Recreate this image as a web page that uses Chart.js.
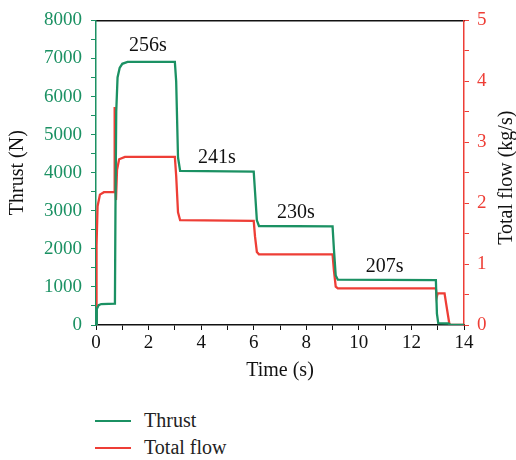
<!DOCTYPE html>
<html>
<head>
<meta charset="utf-8">
<script src="https://cdn.jsdelivr.net/npm/chart.js@4/dist/chart.umd.min.js"></script>
<style>
  body { margin: 0; background: #fff; }
  #wrap { position: relative; width: 516px; height: 460px; }
  #chartBox { position: absolute; left: 0; top: 0; width: 516px; height: 395px; }
  #legend { position: absolute; left: 95px; top: 407px; font-family: "Liberation Serif", serif; font-size: 20px; color: #222; }
  .item { display: flex; align-items: center; height: 27px; }
  .swatch { width: 36px; height: 2px; margin-right: 13px; }
</style>
</head>
<body>
<div id="wrap">
  <div id="chartBox"><canvas id="chart"></canvas></div>
  <div id="legend"></div>
</div>
<script>
// thrust curve (time in s, thrust in N)
const thrustTime = [0, 0.03, 0.1, 0.2, 0.72, 0.74, 0.77, 0.82, 0.9, 1.0, 1.2, 3.0, 3.05, 3.12, 3.2, 6.0, 6.05, 6.12, 6.2, 9.0, 9.05, 9.12, 9.2, 12.93, 12.97, 13.02, 13.4, 13.5, 14];
const thrustValues = [0, 420, 520, 550, 560, 3000, 5600, 6500, 6750, 6860, 6910, 6910, 6400, 4400, 4050, 4030, 3500, 2750, 2600, 2590, 2000, 1300, 1190, 1180, 300, 50, 40, 0, 0];

// total flow curve (time in s, flow in kg/s)
const flowTime = [0, 0.02, 0.06, 0.15, 0.3, 0.69, 0.71, 0.73, 0.76, 0.8, 0.88, 1.1, 3.0, 3.05, 3.12, 3.2, 6.0, 6.05, 6.12, 6.2, 9.0, 9.05, 9.12, 9.2, 12.93, 12.96, 13.0, 13.26, 13.32, 13.45, 14];
const flowValues = [0, 1.3, 1.95, 2.14, 2.18, 2.18, 3.58, 2.3, 2.05, 2.55, 2.72, 2.76, 2.76, 2.45, 1.85, 1.72, 1.71, 1.45, 1.2, 1.16, 1.16, 0.9, 0.63, 0.6, 0.6, 0.45, 0.52, 0.52, 0.35, 0, 0];

// specific impulse labels on each plateau
const annoLabels = ['256s', '241s', '230s', '207s'];
const annoTime = [1.97, 4.6, 7.6, 10.98];
const annoThrust = [7330, 4380, 2950, 1540];

const xTicks = [0, 2, 4, 6, 8, 10, 12, 14];

const green = '#1b9163';
const red = '#ee3e36';
const serif = '"Liberation Serif", serif';

const pts = (ts, vs) => ts.map((t, i) => ({ x: t, y: vs[i] }));

const annoPlugin = {
    id: 'annos',
    afterDatasetsDraw(chart) {
        const { ctx, scales } = chart;
        ctx.save();
        ctx.fillStyle = '#111';
        ctx.font = '20px ' + serif;
        ctx.textAlign = 'center';
        ctx.textBaseline = 'middle';
        annoLabels.forEach((txt, i) => {
            ctx.fillText(txt, scales.x.getPixelForValue(annoTime[i]), scales.y.getPixelForValue(annoThrust[i]));
        });
        // right axis title, reading bottom to top
        const area = chart.chartArea;
        ctx.translate(507, (area.top + area.bottom) / 2 + 5);
        ctx.rotate(-Math.PI / 2);
        ctx.fillText('Total flow (kg/s)', 0, 0);
        ctx.restore();
    }
};

const chart = new Chart(document.getElementById('chart'), {
    type: 'line',
    data: {
        datasets: [
            { label: 'Thrust', data: pts(thrustTime, thrustValues), borderColor: green, borderWidth: 2.3, yAxisID: 'y' },
            { label: 'Total flow', data: pts(flowTime, flowValues), borderColor: red, borderWidth: 2.3, yAxisID: 'y1' }
        ]
    },
    options: {
        responsive: true,
        maintainAspectRatio: false,
        animation: false,
        layout: { padding: 0 },
        elements: { point: { radius: 0 }, line: { tension: 0 } },
        plugins: { legend: { display: false }, tooltip: { enabled: false } },
        scales: {
            x: {
                type: 'linear', min: 0, max: 14,
                afterFit: s => { s.height = 70; },
                ticks: {
                    stepSize: 1, autoSkip: false, maxRotation: 0, padding: 2,
                    color: '#111', font: { family: serif, size: 19 },
                    callback: v => xTicks.includes(v) ? v : ''
                },
                grid: { drawOnChartArea: false, tickLength: 5, color: '#111' },
                border: { color: '#111', width: 1.5 },
                title: { display: true, text: 'Time (s)', color: '#111', font: { family: serif, size: 20 }, padding: { top: 0, bottom: 12 } }
            },
            xTop: {
                type: 'linear', position: 'top', min: 0, max: 14,
                afterFit: s => { s.height = 18; },
                ticks: { display: false },
                grid: { drawOnChartArea: false, drawTicks: false },
                border: { color: '#111', width: 1.5 }
            },
            y: {
                position: 'left', min: 0, max: 8000,
                afterFit: s => { s.width = 96; },
                ticks: {
                    stepSize: 500, autoSkip: false, padding: 9,
                    color: green, font: { family: serif, size: 19 },
                    callback: v => v % 1000 === 0 ? v : ''
                },
                grid: { drawOnChartArea: false, tickLength: 5, color: green },
                border: { color: green, width: 1.5 },
                title: { display: true, text: 'Thrust (N)', color: '#111', font: { family: serif, size: 20 }, padding: { top: 6, bottom: 0 } }
            },
            y1: {
                position: 'right', min: 0, max: 5,
                afterFit: s => { s.width = 52; },
                ticks: {
                    stepSize: 0.5, autoSkip: false, padding: 8,
                    color: red, font: { family: serif, size: 19 },
                    callback: v => Number.isInteger(v) ? v : ''
                },
                grid: { drawOnChartArea: false, tickLength: 5, color: red },
                border: { color: red, width: 1.5 }
            }
        }
    },
    plugins: [annoPlugin]
});

// simple vertical legend under the chart
const legend = document.getElementById('legend');
chart.data.datasets.forEach(ds => {
    const row = document.createElement('div');
    row.className = 'item';
    const sw = document.createElement('span');
    sw.className = 'swatch';
    sw.style.background = ds.borderColor;
    row.appendChild(sw);
    row.appendChild(document.createTextNode(ds.label));
    legend.appendChild(row);
});
</script>
</body>
</html>
